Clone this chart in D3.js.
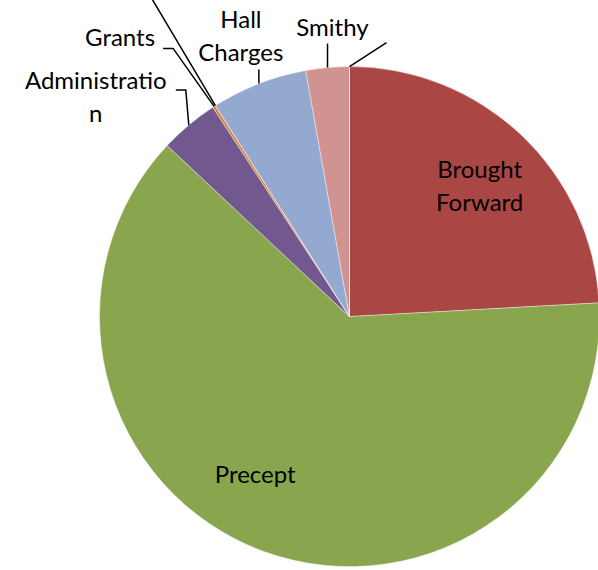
<!DOCTYPE html>
<html>
<head>
<meta charset="utf-8">
<script src="https://cdn.jsdelivr.net/npm/d3@7"></script>
<style>
  body { margin: 0; background: #fff; }
  text { font-family: Lato, sans-serif; font-size: 24px; fill: #000; }
</style>
</head>
<body>
<svg id="chart"></svg>
<script>
// slices, clockwise from 12 o'clock (values read as % of total)
let categories = ["Brought Forward", "Precept", "Administration", "Grants", "", "Hall Charges", "Smithy", ""];
let values = [24.1, 62.8, 3.8, 0.2, 0, 6.2, 2.8, 0];
let labelLines = [["Brought", "Forward"], ["Precept"], ["Administratio", "n"], ["Grants"], [""], ["Hall", "Charges"], ["Smithy"], [""]];
let colors = ["#AA4643", "#89A54E", "#71588F", "#DB843D", "#4198AF", "#93A9CF", "#D19392", "#B9CD96"];

let w = 598;
let h = 570;
let cx = 349.5, cy = 316.6, r = 250;
let lineGap = 33;

// where each label goes: inside at a centroid, or outside with a leader from the slice edge
let labelLayout = [
  { inside: true, dx: 3, dy: 4, anchor: "middle" },
  { inside: true, dx: -31, dy: -15, anchor: "middle" },
  { leader: [[0, 0], [-3, -35], [-13, -35]], dx: -93, dy: -36, anchor: "middle" },
  { leader: [[0, 0], [-41, -58], [-51, -58]], dx: -59, dy: -60, anchor: "end" },
  { leader: [[0, 0], [-110, -185]], dx: 0, dy: 0, anchor: "middle" },
  { leader: [[0, 0], [0, -14]], dx: -18, dy: -56, anchor: "middle" },
  { leader: [[0, 0], [0, -24]], dx: 5, dy: -32, anchor: "middle" },
  { leader: [[0, 0], [37, -24]], dx: 0, dy: 0, anchor: "middle" }
];

let svg = d3.select("#chart")
  .attr("width", w)
  .attr("height", h);

let g = svg.append("g").attr("transform", `translate(${cx},${cy})`);

let pie = d3.pie().sort(null).value((d) => d);
let arcs = pie(values);

let arc = d3.arc().innerRadius(0).outerRadius(r);
let edgeArc = d3.arc().innerRadius(r).outerRadius(r);
let labelArc = d3.arc().innerRadius(185).outerRadius(185);

g.selectAll("path.slice")
  .data(arcs)
  .enter()
  .append("path")
  .attr("class", "slice")
  .attr("d", arc)
  .attr("fill", (d, i) => colors[i])
  .attr("stroke", "#fff")
  .attr("stroke-width", 0.4);

arcs.forEach((d, i) => {
  let lay = labelLayout[i];
  let lines = labelLines[i];
  let x, y;
  if (lay.inside) {
    [x, y] = labelArc.centroid(d);
  } else {
    let [ex, ey] = edgeArc.centroid(d);
    g.append("polyline")
      .attr("points", lay.leader.map((p) => [ex + p[0], ey + p[1]].join(",")).join(" "))
      .attr("fill", "none")
      .attr("stroke", "#000")
      .attr("stroke-width", 1.5);
    x = ex;
    y = ey;
  }
  let t = g.append("text")
    .attr("text-anchor", lay.anchor)
    .attr("x", x + lay.dx)
    .attr("y", y + lay.dy);
  if (lay.inside) {
    // centre the block of lines on the label point
    t.attr("y", y + lay.dy - (lines.length - 1) * lineGap / 2 + 8);
  }
  lines.forEach((s, k) => {
    t.append("tspan")
      .attr("x", x + lay.dx)
      .attr("dy", k === 0 ? 0 : lineGap)
      .text(s);
  });
});
</script>
</body>
</html>
